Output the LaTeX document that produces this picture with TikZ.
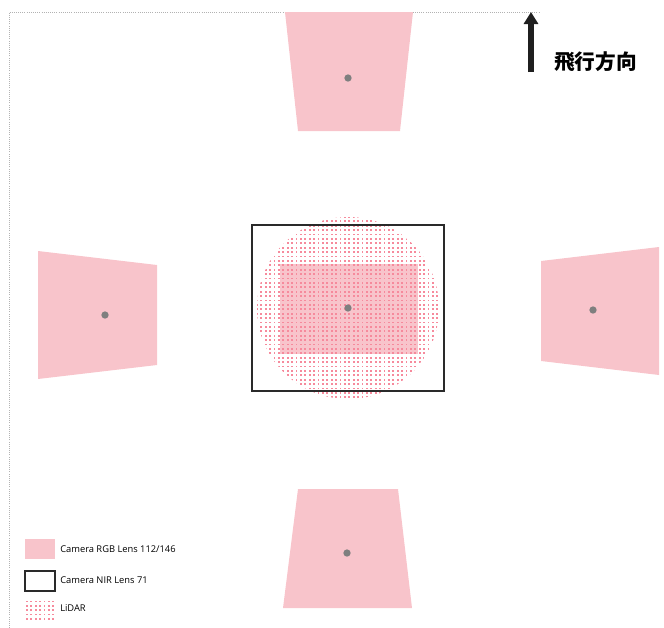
\documentclass[tikz,border=0pt]{standalone}
\usepackage{fontspec}
\setmainfont{Open Sans}
\newfontfamily\cjk{Noto Sans CJK JP}
\usetikzlibrary{arrows.meta}
\definecolor{rgbpink}{HTML}{F8C4CB}
\definecolor{lidarpink}{HTML}{F68A9C}
\definecolor{centgray}{HTML}{7F7F7F}
\definecolor{nirline}{HTML}{2A2A2A}
\tikzset{
  rgbcam/.style={fill=rgbpink},
  nircam/.style={draw=nirline, line width=0.95pt},
  lidardot/.style={fill=lidarpink},
  centre/.style={circle, fill=centgray, inner sep=0pt, minimum size=5.5pt},
  legtext/.style={anchor=west, inner sep=0pt, font=\fontsize{7}{8}\selectfont},
}
\begin{document}
\begin{tikzpicture}[x=0.75pt,y=-0.75pt]
\useasboundingbox (0,0) rectangle (664,628);
% frame
\draw[gray!60, densely dotted, line width=0.6pt] (9,628) -- (9,12) -- (540,12);
% top camera
\fill[rgbcam] (285,12) -- (413,12) -- (400,131) -- (298,131) -- cycle;
\node[centre] (ctop) at (348,78) {};
% left camera
\fill[rgbcam] (38,251) -- (157,265) -- (157,365) -- (38,379) -- cycle;
\node[centre] (cleft) at (105,315) {};
% right camera
\fill[rgbcam] (541,261) -- (659,247) -- (659,375) -- (541,361) -- cycle;
\node[centre] (cright) at (593,310) {};
% bottom camera
\fill[rgbcam] (298,489) -- (398,489) -- (412,608) -- (283,608) -- cycle;
\node[centre] (cbottom) at (347,553) {};
% centre: RGB nadir, NIR, LiDAR
\fill[rgbcam] (280,264) rectangle (418,354);
\begin{scope}
  \clip (348,308) circle[radius=91];
  \foreach \i in {0,...,42} \foreach \j in {0,...,42}
    \fill[lidardot] ({256+\i*4.4},{216+\j*4.4}) rectangle ++(1.7,1.7);
\end{scope}
\draw[nircam] (252,225) rectangle (444,391);
\node[centre] (ccentre) at (348,308) {};
% flight direction
\coordinate (arrtail) at (531,72);
\coordinate (arrhead) at (531,12);
\draw[line width=4.8pt, color=black!88, -{Triangle[length=9pt,width=10.5pt]}] (arrtail) -- (arrhead);
\node[anchor=west, inner sep=0pt, font=\cjk\bfseries\fontsize{15.5}{18}\selectfont] (dir) at (554,62) {飛行方向};
% legend
\fill[rgbcam] (25,539) rectangle (55,559);
\node[legtext] (l1) at (60,549) {Camera RGB Lens 112/146};
\draw[nircam] (25,571) rectangle (55,591);
\node[legtext] (l2) at (60,580) {Camera NIR Lens 71};
\begin{scope}
  \clip (25,600) rectangle (55,620);
  \foreach \i in {0,...,7} \foreach \j in {0,...,5}
    \fill[lidardot] ({26+\i*4.4},{600.5+\j*4.4}) rectangle ++(1.7,1.7);
\end{scope}
\node[legtext] (l3) at (60,608) {LiDAR};
\end{tikzpicture}
\end{document}
